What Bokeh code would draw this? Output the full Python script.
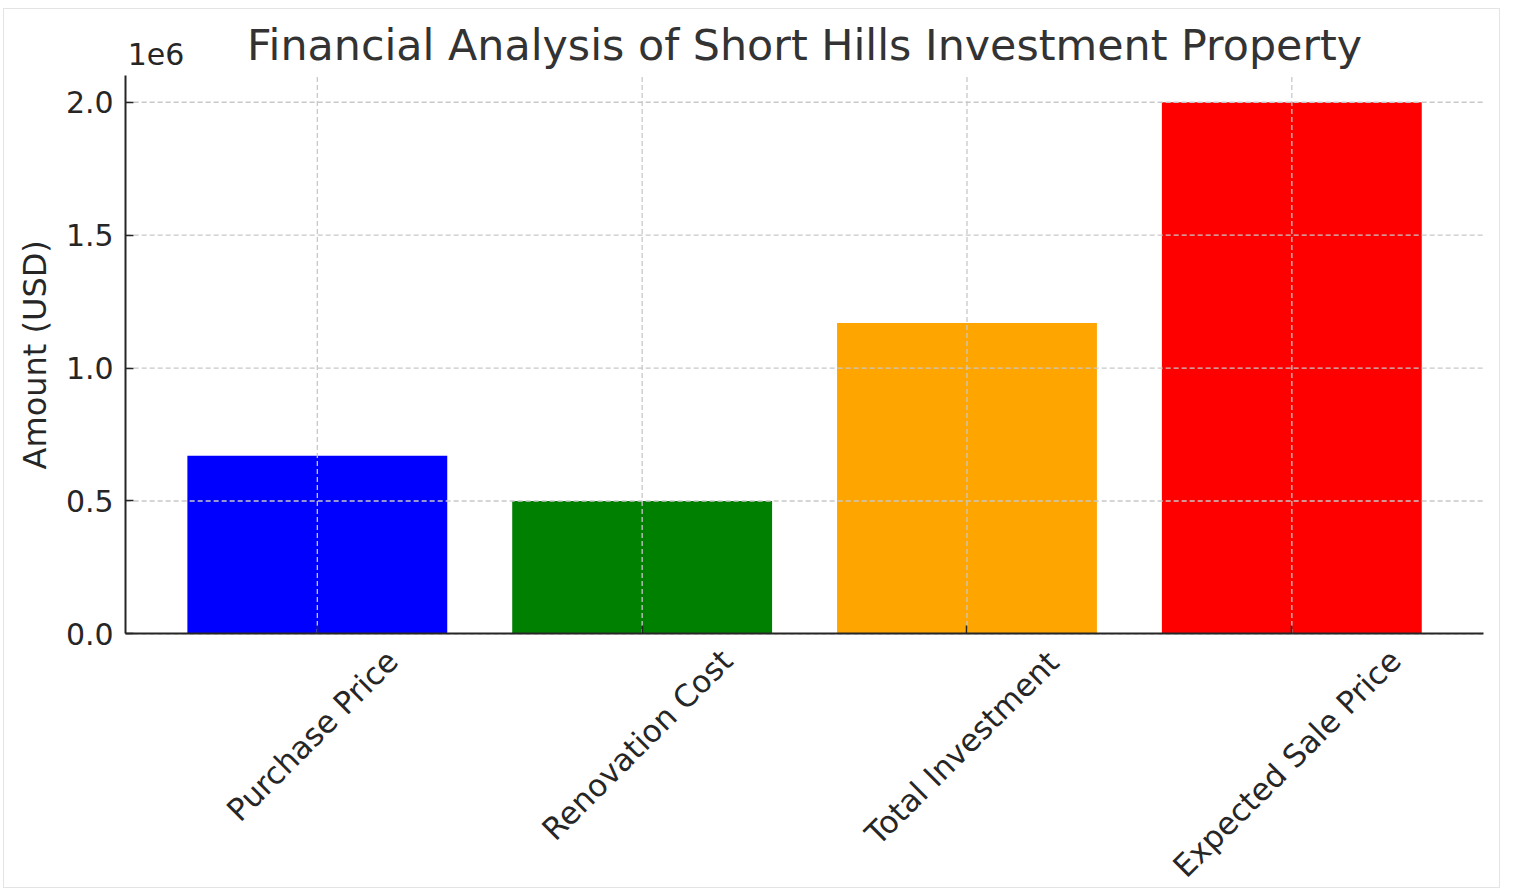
import math
from bokeh.plotting import figure
from bokeh.core.properties import value
from bokeh.models import (Range1d, FixedTicker, CustomJSTickFormatter,
                          ColumnDataSource, LabelSet, Label)
from bokeh.embed import file_html
from bokeh.resources import INLINE

# ---- data ----
categories = ["Purchase Price", "Renovation Cost", "Total Investment", "Expected Sale Price"]
amounts = [670000, 500000, 1170000, 2000000]
bar_colors = ["#0000ff", "#008000", "#ffa500", "#ff0000"]
y_ticks = [0, 500000, 1000000, 1500000, 2000000]
title_text = "Financial Analysis of Short Hills Investment Property"
y_label = "Amount (USD)"
offset_text = "1e6"

# ---- style / layout ----
FONT = "DejaVu Sans"
TICK_PX = 30
CAT_PX = 31
TEXT_COLOR = "#262626"
GRID_COLOR = "#c8c8c8"
FIG_W, FIG_H = 1497, 880
BORDER = 1
FRAME_W, FRAME_H = FIG_W - 2 * BORDER, FIG_H - 2 * BORDER   # frame = whole canvas
AX_L, AX_W = 121, 1356        # axes box left / width, px inside the frame
AX_TOP, AX_BOT = 66, 623      # axes box top / bottom, px from the frame top

# DejaVu Sans advance widths (em), used to centre the rotated category labels
ADV = {" ": 0.318, "P": 0.603, "u": 0.634, "r": 0.411, "c": 0.550, "h": 0.634,
       "a": 0.613, "s": 0.521, "e": 0.615, "i": 0.278, "R": 0.695, "n": 0.634,
       "o": 0.612, "v": 0.592, "t": 0.392, "C": 0.698, "T": 0.611, "l": 0.278,
       "I": 0.295, "m": 0.974, "E": 0.632, "x": 0.592, "p": 0.635, "d": 0.635,
       "S": 0.635}


def width_px(s, size):
    return sum(ADV.get(ch, 0.6) for ch in s) * size


x_pos = list(range(len(categories)))
x_lo, x_hi = -0.59, len(categories) - 1 + 0.59
y_lo, y_hi = 0, 2.1e6

px_per_x = AX_W / (x_hi - x_lo)
px_per_y = (AX_BOT - AX_TOP) / (y_hi - y_lo)
x_range = Range1d(x_lo - AX_L / px_per_x, x_lo + (FRAME_W - AX_L) / px_per_x)
y_range = Range1d(y_lo - (FRAME_H - AX_BOT) / px_per_y, y_hi + AX_TOP / px_per_y)

p = figure(width=FIG_W, height=FIG_H, x_range=x_range, y_range=y_range,
           title=None, output_backend="svg", toolbar_location=None,
           min_border_left=0, min_border_right=0,
           min_border_top=0, min_border_bottom=0)
p.margin = (8, 0, 0, 3)
p.styles = {"border": f"{BORDER}px solid #e4e4e4"}
p.outline_line_color = None
p.background_fill_color = "white"
p.border_fill_color = "white"
p.xgrid.visible = False
p.ygrid.visible = False

src = ColumnDataSource(dict(x=x_pos, top=amounts, color=bar_colors))
p.vbar(x="x", top="top", width=0.8, bottom=0, color="color", line_color=None, source=src)

# dashed grid, drawn over the bars and limited to the axes box
p.segment(x0=x_pos, x1=x_pos, y0=[y_lo] * len(x_pos), y1=[y_hi] * len(x_pos),
          line_color=GRID_COLOR, line_dash="5 3", line_width=1.3)
p.segment(x0=[x_lo] * len(y_ticks), x1=[x_hi] * len(y_ticks), y0=y_ticks, y1=y_ticks,
          line_color=GRID_COLOR, line_dash="5 3", line_width=1.3)

# axes (placed at the edges of the axes box)
for ax in (p.xaxis[0], p.yaxis[0]):
    ax.axis_line_color = TEXT_COLOR
    ax.axis_line_width = 2
    ax.major_tick_line_color = TEXT_COLOR
    ax.major_tick_line_width = 1.5
    ax.major_tick_in = 8
    ax.major_tick_out = 0
    ax.minor_tick_line_color = None
    ax.major_label_text_font = FONT
    ax.major_label_text_font_size = f"{TICK_PX}px"
    ax.major_label_text_color = TEXT_COLOR

p.yaxis.fixed_location = x_lo
p.yaxis.bounds = (y_lo, y_hi)
p.yaxis.ticker = FixedTicker(ticks=y_ticks)
p.yaxis.formatter = CustomJSTickFormatter(code="return (tick / 1e6).toFixed(1);")
p.yaxis.major_label_standoff = 12

p.xaxis.fixed_location = y_lo
p.xaxis.bounds = (x_lo, x_hi)
p.xaxis.ticker = FixedTicker(ticks=x_pos)
p.xaxis.formatter = CustomJSTickFormatter(code="return '';")

# y axis title, centred on the axes box
p.add_layout(Label(x=x_lo, y=(y_lo + y_hi) / 2, x_offset=-91, text=y_label,
                   angle=math.pi / 2, text_align="center", text_baseline="middle",
                   text_font=FONT, text_font_size="32px", text_color=TEXT_COLOR))

# rotated category labels, each centred under its tick, just below the axis
line_h = 1.17 * CAT_PX
yoff = [-(8 + (width_px(c, CAT_PX) + line_h) / (2 * math.sqrt(2))) for c in categories]
lab_src = ColumnDataSource(dict(x=x_pos, y=[y_lo] * len(categories), text=categories, yoff=yoff))
p.add_layout(LabelSet(x="x", y="y", text="text", y_offset="yoff", x_offset=-5, source=lab_src,
                      angle=math.pi / 4, text_align="center", text_baseline="middle",
                      text_font=value(FONT), text_font_size=value(f"{CAT_PX}px"),
                      text_color=TEXT_COLOR))

# title, centred over the axes box
p.add_layout(Label(x=(x_lo + x_hi) / 2, y=y_hi, y_offset=31, text=title_text,
                   text_align="center", text_baseline="alphabetic",
                   text_font=FONT, text_font_size="42.8px", text_color="#333333"))

# offset text "1e6" at the top-left corner of the axes box
p.add_layout(Label(x=x_lo, y=y_hi, x_offset=2, y_offset=22, text=offset_text,
                   text_align="left", text_baseline="alphabetic",
                   text_font=FONT, text_font_size=f"{TICK_PX}px", text_color=TEXT_COLOR))

open("out.html", "w").write(file_html(p, INLINE))
